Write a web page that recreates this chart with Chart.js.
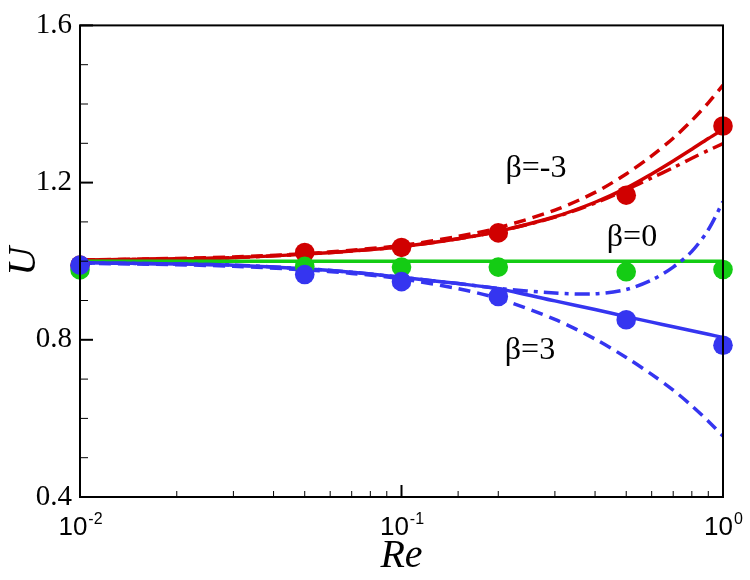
<!DOCTYPE html>
<html>
<head>
<meta charset="utf-8">
<script src="https://cdn.jsdelivr.net/npm/chart.js@4.4.1/dist/chart.umd.min.js"></script>
<style>
  html, body { margin: 0; padding: 0; background: #fff; }
  #wrap { width: 750px; height: 580px; }
</style>
</head>
<body>
<div id="wrap"><canvas id="c" width="750" height="580"></canvas></div>
<script>
// ---- data ----
const reMarkers = [0.01, 0.05, 0.1, 0.2, 0.5, 1.0];
const markRedNeg3 = [0.99, 1.022, 1.035, 1.072, 1.168, 1.344];
const markGreen0 = [0.978, 0.987, 0.985, 0.985, 0.973, 0.979];
const markBlue3 = [0.99, 0.966, 0.948, 0.910, 0.851, 0.786];

const reCurve = [0.01, 0.02, 0.03, 0.05, 0.07, 0.1, 0.15, 0.2, 0.3, 0.4, 0.5, 0.6, 0.7, 0.8, 0.9, 1.0];
const redSolid   = [1.003, 1.006, 1.009, 1.018, 1.026, 1.037, 1.057, 1.076, 1.113, 1.150, 1.186, 1.222, 1.255, 1.285, 1.312, 1.335];
const redDashed  = [1.003, 1.007, 1.011, 1.019, 1.028, 1.040, 1.063, 1.085, 1.130, 1.175, 1.222, 1.268, 1.313, 1.358, 1.403, 1.448];
const redDashDot = [1.003, 1.006, 1.009, 1.018, 1.026, 1.037, 1.057, 1.076, 1.112, 1.148, 1.182, 1.212, 1.238, 1.262, 1.282, 1.299];
const greenSolid = [1.0, 1.0, 1.0, 1.0, 1.0, 1.0, 1.0, 1.0, 1.0, 1.0, 1.0, 1.0, 1.0, 1.0, 1.0, 1.0];
const blueSolid  = [0.996, 0.993, 0.990, 0.981, 0.972, 0.959, 0.943, 0.930, 0.899, 0.877, 0.859, 0.845, 0.833, 0.823, 0.814, 0.806];
const blueDashed = [0.995, 0.991, 0.987, 0.978, 0.969, 0.955, 0.930, 0.905, 0.852, 0.802, 0.755, 0.712, 0.672, 0.632, 0.593, 0.555];
const blueDashDot= [0.996, 0.993, 0.990, 0.981, 0.972, 0.959, 0.943, 0.931, 0.919, 0.917, 0.928, 0.952, 0.985, 1.025, 1.080, 1.152];

const yMajorLabels = [0.4, 0.8, 1.2, 1.6];
const xLabelValues = [0.01, 0.1, 1];
const xLabelBase = ['10', '10', '10'];
const xLabelExp = ['-2', '-1', '0'];
const curveLabels = ['β=-3', 'β=0', 'β=3'];
const curveLabelRe = [0.262, 0.521, 0.251];
const curveLabelU = [1.236, 1.059, 0.773];

// ---- styles ----
const RED = '#d00000', GREEN = '#14cc14', BLUE = '#3535f0';
const DASH = [12, 7], DASHDOT = [15, 6, 4, 6];
const SERIF = '"Liberation Serif", "Times New Roman", serif';
const SANS = '"Liberation Sans", Arial, sans-serif';

function pts(xs, ys) { return xs.map((x, i) => ({ x: x, y: ys[i] })); }
function line(data, color, dash, order) {
  return { data: data, showLine: true, borderColor: color, backgroundColor: color, borderWidth: 3.5,
           borderDash: dash, pointRadius: 0, pointHoverRadius: 0, tension: 0.3, order: order };
}
function marks(data, color, order) {
  return { data: data, showLine: false, backgroundColor: color, borderColor: color, borderWidth: 0,
           pointRadius: 9.8, pointHoverRadius: 9.8, clip: false, order: order };
}

const frameTicks = {
  id: 'frameTicks',
  afterDatasetsDraw(chart) {
    const { ctx, chartArea: a, scales: { x, y } } = chart;
    ctx.save();
    ctx.strokeStyle = '#000';
    y.ticks.forEach(t => {
      const py = y.getPixelForValue(t.value);
      const major = yMajorLabels.some(v => Math.abs(v - t.value) < 1e-6);
      ctx.lineWidth = major ? 2 : 1;
      ctx.beginPath(); ctx.moveTo(a.left, py); ctx.lineTo(a.left + (major ? 13 : 8), py); ctx.stroke();
    });
    x.ticks.forEach(t => {
      const px = x.getPixelForValue(t.value);
      const major = xLabelValues.some(v => Math.abs(v - t.value) < 1e-9);
      ctx.lineWidth = major ? 2 : 1;
      ctx.beginPath(); ctx.moveTo(px, a.bottom); ctx.lineTo(px, a.bottom - (major ? 12 : 6)); ctx.stroke();
    });
    ctx.lineWidth = 2;
    ctx.strokeRect(a.left, a.top, a.right - a.left, a.bottom - a.top);

    // x tick labels with superscripts
    ctx.fillStyle = '#000';
    ctx.textBaseline = 'alphabetic';
    xLabelValues.forEach((v, i) => {
      const px = x.getPixelForValue(v);
      ctx.font = '26px ' + SANS;
      const wb = ctx.measureText(xLabelBase[i]).width;
      ctx.font = '16px ' + SANS;
      const we = ctx.measureText(xLabelExp[i]).width;
      const x0 = px - (wb + we) / 2;
      ctx.font = '26px ' + SANS;
      ctx.textAlign = 'left';
      ctx.fillText(xLabelBase[i], x0, 535);
      ctx.font = '16px ' + SANS;
      ctx.fillText(xLabelExp[i], x0 + wb + 1, 524);
    });

    // curve labels
    ctx.font = '32px ' + SERIF;
    ctx.textAlign = 'center';
    ctx.textBaseline = 'middle';
    curveLabels.forEach((s, i) => {
      ctx.fillText(s, x.getPixelForValue(curveLabelRe[i]), y.getPixelForValue(curveLabelU[i]));
    });
    ctx.restore();
  }
};

new Chart(document.getElementById('c'), {
  type: 'scatter',
  data: {
    datasets: [
      marks(pts(reMarkers, markBlue3), BLUE, 1),
      marks(pts(reMarkers, markGreen0), GREEN, 2),
      marks(pts(reMarkers, markRedNeg3), RED, 3),
      line(pts(reCurve, blueSolid), BLUE, [], 10),
      line(pts(reCurve, blueDashed), BLUE, DASH, 11),
      line(pts(reCurve, blueDashDot), BLUE, DASHDOT, 12),
      line(pts(reCurve, greenSolid), GREEN, [], 13),
      line(pts(reCurve, redSolid), RED, [], 14),
      line(pts(reCurve, redDashed), RED, DASH, 15),
      line(pts(reCurve, redDashDot), RED, DASHDOT, 16)
    ]
  },
  options: {
    responsive: false,
    animation: false,
    devicePixelRatio: 1,
    layout: { padding: { top: 15, right: 27, left: 0, bottom: 0 } },
    plugins: { legend: { display: false }, tooltip: { enabled: false } },
    scales: {
      x: {
        type: 'logarithmic', min: 0.01, max: 1,
        grid: { display: false, drawTicks: false },
        border: { display: false },
        ticks: { display: false },
        title: { display: true, text: 'Re', color: '#000',
                 font: { family: SERIF, size: 40, style: 'italic' },
                 padding: { top: 0, bottom: 0 } },
        afterFit(s) { s.height = 83; }
      },
      y: {
        min: 0.4, max: 1.6,
        grid: { display: false, drawTicks: false },
        border: { display: false },
        ticks: {
          stepSize: 0.1, autoSkip: false, padding: 8, color: '#000',
          font: { family: SERIF, size: 29 },
          callback(v) {
            const m = yMajorLabels.find(t => Math.abs(t - v) < 1e-6);
            return m === undefined ? '' : m.toFixed(1);
          }
        },
        title: { display: true, text: 'U', color: '#000',
                 font: { family: SERIF, size: 40, style: 'italic' },
                 padding: { top: 0, bottom: 0 } },
        afterFit(s) { s.width = 80; }
      }
    }
  },
  plugins: [frameTicks]
});
</script>
</body>
</html>
